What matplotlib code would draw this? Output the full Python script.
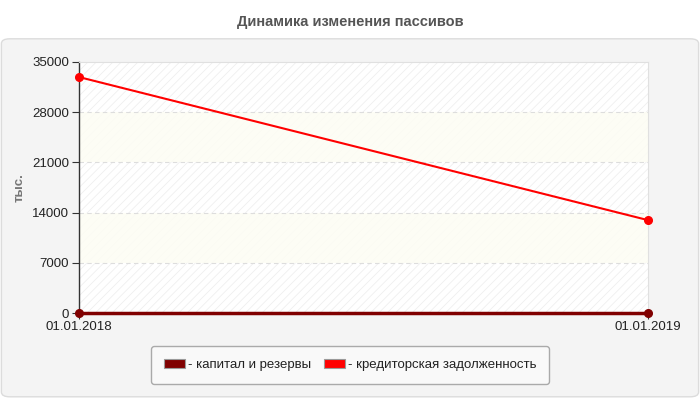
import matplotlib
matplotlib.use("Agg")
import matplotlib.pyplot as plt
from matplotlib.patches import FancyBboxPatch, Rectangle, Patch

title = "Динамика изменения пассивов"
dates = ["01.01.2018", "01.01.2019"]
capital = [10, 10]
creditor = [32900, 12950]
series_names = ["- капитал и резервы", "- кредиторская задолженность"]
series_colors = ["#800000", "#ff0000"]
y_ticks = [0, 7000, 14000, 21000, 28000, 35000]
y_label = "тыс."

plt.rcParams['font.family'] = ['Liberation Sans', 'DejaVu Sans']
plt.rcParams['hatch.linewidth'] = 0.6

fig = plt.figure(figsize=(7, 4), dpi=100, facecolor='white')

# outer panel
panel = FancyBboxPatch((0.002, 0.008), 0.996, 0.895, boxstyle="round,pad=0,rounding_size=0.012",
                       transform=fig.transFigure, facecolor='#f4f4f4', edgecolor='#dcdcdc',
                       linewidth=1, zorder=-5)
fig.patches.append(panel)

fig.text(0.5, 0.945, title, ha='center', va='center', fontsize=10.5, fontweight='bold', color='#555555')

ax = fig.add_axes([0.1129, 0.2175, 0.8128, 0.6275])
ax.set_zorder(2)
ax.set_facecolor('white')
x = list(range(len(dates)))
ax.set_xlim(0, len(dates) - 1)
ax.set_ylim(y_ticks[0], y_ticks[-1])

# hatch background
ax.add_patch(Rectangle((0, 0), 1, 1, transform=ax.transAxes, facecolor='none',
                       edgecolor='#efefef', linewidth=0, hatch='////', zorder=0))
for lo, hi in [(y_ticks[1], y_ticks[2]), (y_ticks[3], y_ticks[4])]:
    ax.axhspan(lo, hi, facecolor='#fdfdf4', alpha=0.85, zorder=0.5, linewidth=0)

for yv in y_ticks[1:-1]:
    ax.axhline(yv, color='#dddddd', linestyle=(0, (4, 3)), linewidth=0.8, zorder=1)

ax.plot(x, creditor, color=series_colors[1], linewidth=1.5, marker='o', markersize=5.5,
        clip_on=False, zorder=3)
ax.plot(x, capital, color=series_colors[0], linewidth=2.5, marker='o', markersize=5.5,
        clip_on=False, zorder=4)

ax.set_yticks(y_ticks)
ax.set_yticklabels([str(v) for v in y_ticks])
ax.set_xticks(x)
ax.set_xticklabels(dates)
ax.tick_params(axis='y', direction='out', length=5, width=0.8, color='#333333', labelsize=9.5,
               labelcolor='#222222', pad=2)
ax.tick_params(axis='x', direction='out', length=4, width=0.8, color='#333333', labelsize=9.5,
               labelcolor='#222222', pad=2)

ax.spines['left'].set_color('#333333')
ax.spines['left'].set_linewidth(1)
ax.spines['bottom'].set_color('#800000')
ax.spines['bottom'].set_linewidth(1)
ax.spines['top'].set_color('#e0e0e0')
ax.spines['right'].set_color('#e0e0e0')

ax.set_ylabel(y_label, fontsize=9.5, fontweight='bold', color='#777777', labelpad=5)

handles = [Patch(facecolor=c, edgecolor='#999999', linewidth=0.8) for c in series_colors]
leg = fig.legend(handles, series_names, loc='center', bbox_to_anchor=(0.5, 0.0875),
                 ncol=2, fontsize=9.5, frameon=True, handlelength=1.6, handleheight=0.6,
                 handletextpad=0.2, columnspacing=1.0, borderpad=0.95, fancybox=True,
                 labelcolor='#222222')
frame = leg.get_frame()
frame.set_facecolor('#f9f9f9')
frame.set_edgecolor('#aaaaaa')
frame.set_linewidth(1)
frame.set_alpha(1)

fig.savefig('out.png', dpi=100, facecolor='white')
